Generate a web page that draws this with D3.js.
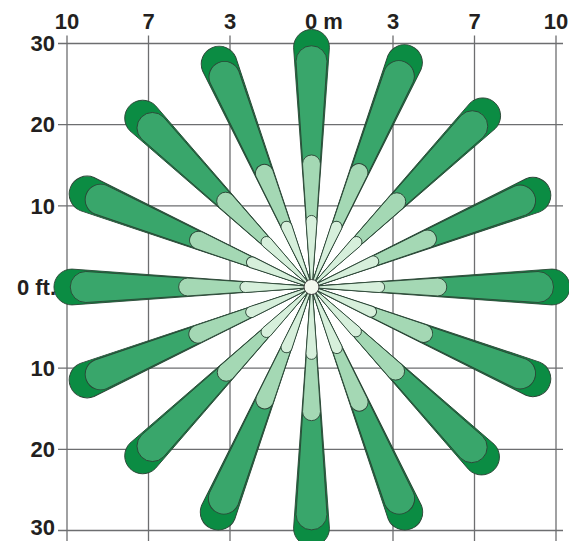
<!DOCTYPE html>
<html>
<head>
<meta charset="utf-8">
<script src="https://cdn.jsdelivr.net/npm/d3@7"></script>
<style>
  body { margin: 0; background: #fff; }
  text { font-family: "Liberation Sans", Arial, sans-serif; font-weight: bold; fill: #231f20; }
</style>
</head>
<body>
<svg width="569" height="541"></svg>
<script>
// grid in feet, top labels are the metre equivalents
var gridFeet = [-30, -20, -10, 0, 10, 20, 30];
var topLabels = ["10", "7", "3", "0 m", "3", "7", "10"];
var sideLabels = ["30", "20", "10", "0 ft.", "10", "20", "30"];

// 16 spray directions, degrees clockwise from north
var angles = [0, 22.5, 45, 67.5, 90, 112.5, 135, 157.5, 180, 202.5, 225, 247.5, 270, 292.5, 315, 337.5];
// reach of each zone (ft, centre of the rounded end)
var outerReach  = [29.4, 29.8, 29.7, 29.4, 29.5, 29.4, 29.5, 29.9, 29.6, 29.9, 29.3, 29.8, 29.4, 29.8, 29.3, 29.6];
var middleReach = [27.7, 28.0, 27.9, 27.7, 27.8, 27.7, 27.8, 28.1, 27.9, 28.1, 27.6, 28.0, 27.7, 28.0, 27.6, 27.9];
var innerReach  = [15.1, 15.2, 14.8, 15.4, 15.5, 14.9, 14.6, 15.3, 15.3, 15.0, 14.8, 15.1, 15.2, 15.0, 14.9, 15.1];
var coreReach   = [8.1, 8.0, 7.8, 8.2, 8.3, 7.9, 7.7, 8.1, 8.2, 8.0, 7.8, 8.0, 8.1, 7.9, 7.8, 8.0];
// end radius of each zone (ft)
var zoneRadius = [2.2, 1.9, 1.1, 0.68];
var zoneColor = ["#0b8c43", "#39a66b", "#a4d8b4", "#d6efdb"];

var svg = d3.select("svg");
var x = d3.scaleLinear().domain([-30, 30]).range([67, 556]);
var y = d3.scaleLinear().domain([30, -30]).range([43.5, 530.5]);
var px = function(ft){ return x(ft) - x(0); };
var cx = x(0), cy = y(0);

// grid lines (no centre lines)
var g = svg.append("g").attr("stroke", "#6d6e70").attr("stroke-width", 1.3);
gridFeet.filter(function(d){ return d != 0; }).forEach(function(d){
  g.append("line").attr("x1", x(d)).attr("x2", x(d)).attr("y1", y(30) - 8).attr("y2", 541);
  g.append("line").attr("x1", x(-30) - 9).attr("x2", x(30) + 7).attr("y1", y(d)).attr("y2", y(d));
});

// spray pattern
function drop(c, r, w0){
  return "M0," + (-w0) + "L" + c + "," + (-r) + "A" + r + "," + r + " 0 0 1 " + c + "," + r + "L0," + w0 + "Z";
}
var spokes = angles.map(function(a, i){
  return { angle: a, reach: [outerReach[i], middleReach[i], innerReach[i], coreReach[i]] };
});
var sp = svg.selectAll("g.spoke").data(spokes).enter().append("g").attr("class", "spoke")
  .attr("transform", function(d){ return "translate(" + cx + "," + cy + ") rotate(" + (d.angle - 90) + ")"; });
sp.selectAll("path").data(function(d){ return d.reach.map(function(r, k){ return { c: r, k: k }; }); })
  .enter().append("path")
  .attr("d", function(d){ return drop(px(d.c), px(zoneRadius[d.k]), 0.6); })
  .attr("fill", function(d){ return zoneColor[d.k]; })
  .attr("stroke", "#2b4536")
  .attr("stroke-width", 0.9)
  .attr("stroke-linejoin", "round");

svg.append("circle").attr("cx", cx).attr("cy", cy).attr("r", 7.5)
  .attr("fill", "#f2f8ee").attr("stroke", "#3b3b3b").attr("stroke-width", 1);

// labels
svg.selectAll("text.top").data(gridFeet).enter().append("text").attr("class", "top")
  .attr("x", function(d){ return d == 0 ? x(d) - 6.5 : x(d); })
  .attr("y", 29)
  .attr("font-size", "22px")
  .attr("text-anchor", function(d){ return d == 0 ? "start" : "middle"; })
  .text(function(d, i){ return topLabels[i]; });

svg.selectAll("text.side").data(gridFeet).enter().append("text").attr("class", "side")
  .attr("x", function(d){ return d == 0 ? 56 : 55; })
  .attr("y", function(d){ return Math.min(y(d), 527); })
  .attr("dy", "0.35em")
  .attr("font-size", "22px")
  .attr("text-anchor", "end")
  .text(function(d, i){ return sideLabels[i]; });
</script>
</body>
</html>
